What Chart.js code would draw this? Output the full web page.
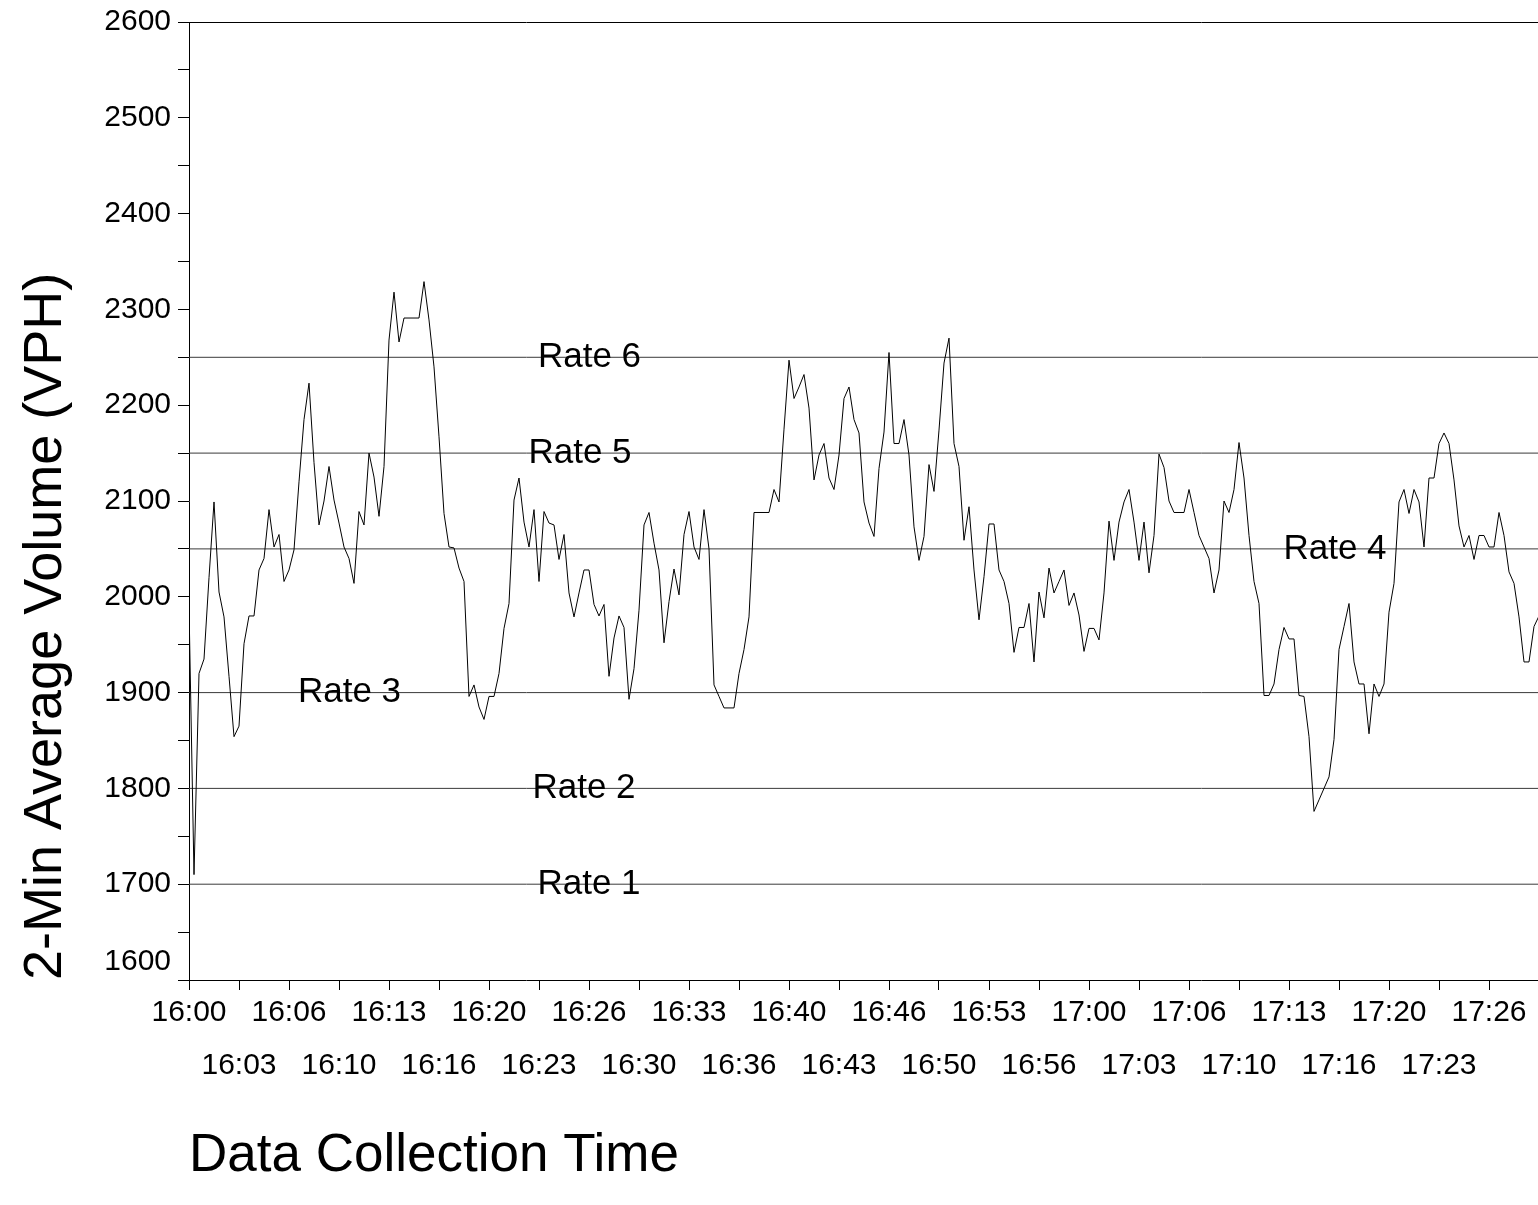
<!DOCTYPE html>
<html>
<head>
<meta charset="utf-8">
<script src="https://cdn.jsdelivr.net/npm/chart.js@4/dist/chart.umd.min.js"></script>
<style>
  html, body { margin: 0; padding: 0; background: #fff; overflow: hidden; }
  #wrap { width: 1538px; height: 1205px; position: relative; }
</style>
</head>
<body>
<div id="wrap"><canvas id="c" width="1538" height="1205"></canvas></div>
<script>
// ---- data ----
const sampleSeconds = 20; // one reading every 20 s starting 16:00:00
const volume = [
  1990,1710,1920,1935,2020,2099,2005,1979,1917,1854,
  1865,1951,1980,1980,2028,2040,2091,2052,2065,2016,
  2028,2049,2120,2185,2223,2140,2075,2100,2136,2101,
  2077,2052,2040,2014,2089,2075,2150,2125,2084,2136,
  2268,2318,2266,2291,2291,2291,2291,2329,2289,2240,
  2167,2087,2052,2051,2030,2016,1896,1908,1885,1872,
  1896,1896,1920,1967,1993,2101,2124,2078,2052,2091,
  2016,2089,2077,2075,2039,2065,2004,1979,2004,2028,
  2028,1992,1980,1992,1917,1957,1980,1968,1893,1925,
  1986,2075,2088,2056,2028,1952,1995,2029,2002,2065,
  2089,2052,2039,2091,2050,1908,1896,1884,1884,1884,
  1920,1945,1979,2088,2088,2088,2088,2112,2099,2175,
  2247,2207,2219,2232,2197,2122,2148,2160,2124,2112,
  2148,2207,2219,2185,2171,2099,2077,2063,2134,2172,
  2255,2160,2160,2185,2148,2073,2038,2063,2138,2110,
  2174,2244,2270,2160,2136,2059,2094,2028,1976,2021,
  2076,2076,2028,2016,1993,1942,1968,1968,1993,1932,
  2005,1978,2030,2004,2016,2028,1991,2004,1981,1943,
  1967,1967,1955,2004,2079,2038,2078,2099,2112,2078,
  2038,2078,2025,2064,2149,2135,2100,2088,2088,2088,
  2112,2088,2064,2052,2040,2004,2028,2100,2088,2112,
  2161,2124,2064,2016,1993,1897,1897,1909,1945,1968,
  1956,1956,1897,1896,1854,1776,1788,1800,1812,1851,
  1945,1969,1993,1932,1909,1909,1857,1909,1896,1909,
  1984,2014,2099,2112,2087,2112,2099,2052,2124,2124,
  2160,2171,2160,2122,2074,2052,2064,2039,2064,2064,
  2052,2052,2088,2064,2026,2014,1979,1932,1932,1969,
  1980
];
const tickLabels = [
  '16:00','16:03','16:06','16:10','16:13','16:16','16:20','16:23','16:26','16:30',
  '16:33','16:36','16:40','16:43','16:46','16:50','16:53','16:56','17:00','17:03',
  '17:06','17:10','17:13','17:16','17:20','17:23','17:26','17:30'
];
const tickStepSeconds = 200;
const rateNames  = ['Rate 1','Rate 2','Rate 3','Rate 4','Rate 5','Rate 6'];
const rateValues = [1700, 1800, 1900, 2050, 2150, 2250];
const yLabels = ['1600','1700','1800','1900','2000','2100','2200','2300','2400','2500','2600'];

// ---- layout helpers (not data) ----
const X_MAX = 5396;          // visible extent of the time axis (seconds)
const rateLabelAt = [1600, 1580, 642, 4584, 1564, 1602]; // label anchor along time axis (s)
const FONT = "'Liberation Sans', Arial, Helvetica, sans-serif";

const seriesPts = volume.map((v, i) => ({x: i * sampleSeconds, y: v}));
const rateSets = rateValues.map(v => ({
  data: [{x: 0, y: v}, {x: (volume.length - 1) * sampleSeconds, y: v}],
  borderColor: '#3a3a3a', borderWidth: 1, pointRadius: 0, fill: false, order: 2
}));

const rateLabelPlugin = {
  id: 'rateLabels',
  afterDatasetsDraw(chart) {
    const {ctx, scales: {x, y}} = chart;
    ctx.save();
    ctx.font = "35px " + FONT;
    ctx.fillStyle = '#000';
    ctx.textAlign = 'center';
    ctx.textBaseline = 'middle';
    rateNames.forEach((name, i) => {
      ctx.fillText(name, x.getPixelForValue(rateLabelAt[i]), y.getPixelForValue(rateValues[i]));
    });
    ctx.restore();
  }
};

new Chart(document.getElementById('c'), {
  type: 'line',
  data: {
    datasets: [
      {data: seriesPts, borderColor: '#000', borderWidth: 1, pointRadius: 0, tension: 0, fill: false, order: 1},
      ...rateSets
    ]
  },
  options: {
    responsive: false,
    animation: false,
    devicePixelRatio: 1,
    layout: {padding: {top: 22, left: 0, right: 0, bottom: 0}},
    plugins: {legend: {display: false}, tooltip: {enabled: false}},
    scales: {
      x: {
        type: 'linear', position: 'bottom', min: 0, max: X_MAX,
        afterFit(s) { s.height = 225; },
        afterBuildTicks(s) {
          s.ticks = tickLabels.map((_, i) => ({value: i * tickStepSeconds})).filter(t => t.value <= X_MAX);
        },
        ticks: {
          autoSkip: false, maxRotation: 0, minRotation: 0, padding: -4,
          color: '#000', font: {family: FONT, size: 30, lineHeight: 53 / 30},
          callback(value) {
            const i = Math.round(value / tickStepSeconds);
            const t = tickLabels[i] || '';
            return i % 2 === 0 ? [t, ''] : ['', t];
          }
        },
        grid: {display: true, drawOnChartArea: false, drawTicks: true, tickLength: 10, color: '#000', lineWidth: 1},
        border: {display: true, color: '#000', width: 1},
        title: {
          display: true, text: 'Data Collection Time', align: 'start', color: '#000',
          font: {family: FONT, size: 53, lineHeight: 1.2}, padding: {top: 0, bottom: 17}
        }
      },
      xTop: {
        type: 'linear', position: 'top', min: 0, max: X_MAX,
        afterFit(s) { s.height = 0; },
        ticks: {display: false},
        grid: {display: false, drawTicks: false},
        border: {display: true, color: '#000', width: 1}
      },
      y: {
        type: 'linear', position: 'left', min: 1600, max: 2600,
        afterFit(s) { s.width = 189; s.paddingTop = 0; s.paddingBottom = 0; },
        ticks: {
          stepSize: 50, padding: 7, color: '#000', autoSkip: false,
          font: {family: FONT, size: 30, lineHeight: 1.2},
          callback(value) {
            if (value % 100 !== 0) return '';
            const lbl = yLabels[Math.round((value - 1600) / 100)];
            // bottom label sits raised above the axis line, as in the original
            return value === 1600 ? [lbl, ''] : lbl;
          }
        },
        grid: {display: true, drawOnChartArea: false, drawTicks: true, tickLength: 11, color: '#000', lineWidth: 1},
        border: {display: true, color: '#000', width: 1},
        title: {
          display: true, text: '2-Min Average Volume (VPH)', align: 'start', color: '#000',
          font: {family: FONT, size: 54, lineHeight: 1.2}, padding: {top: 14, bottom: 0}
        }
      }
    }
  },
  plugins: [rateLabelPlugin]
});
</script>
</body>
</html>
